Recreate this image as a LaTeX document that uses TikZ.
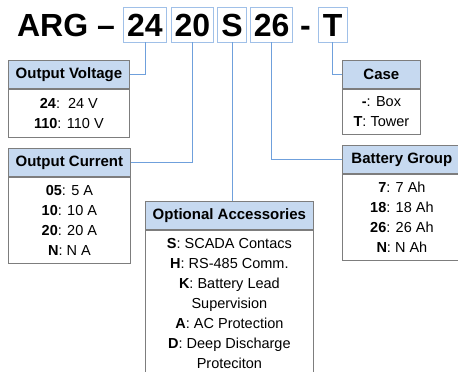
\documentclass[tikz,border=0pt]{standalone}
\usepackage{fontspec}
\setmainfont{Liberation Sans}
\usepackage{xcolor}
\usepackage{tikz}
\usetikzlibrary{positioning}
\definecolor{argblue}{RGB}{111,160,220}
\definecolor{argframe}{RGB}{160,192,232}
\definecolor{arghead}{RGB}{198,217,240}
\definecolor{arggray}{RGB}{125,125,125}
\tikzset{
  code/.style={draw=argframe, line width=0.8pt, inner xsep=3.5pt, inner ysep=0pt, minimum width=29pt, minimum height=35pt, text height=29pt, text depth=5pt, font=\fontsize{32}{32}\selectfont\bfseries},
  head/.style={draw=arggray, line width=0.8pt, fill=arghead, minimum height=28pt, inner sep=0pt, anchor=north west, font=\fontsize{15}{18}\selectfont\bfseries},
  body/.style={draw=arggray, line width=0.8pt, fill=white, align=center, inner sep=0pt, font=\fontsize{14.5}{20}\selectfont},
  link/.style={draw=argblue, line width=0.9pt},
}

\begin{document}
\begin{tikzpicture}[x=1pt, y=-1pt]
    \path[use as bounding box, clip] (0,0) rectangle (458,372);
    % part number
    \node[code] (v24) at (145,24.5) {24};
    \node[code, draw=none, left=4.5pt of v24] (arg) {ARG --};
    \node[code, right=4pt of v24] (v20) {20};
    \node[code, right=3pt of v20] (vS) {S};
    \node[code, right=3pt of vS] (v26) {26};
    \node[code, draw=none, minimum width=0pt, right=3pt of v26] (sep) {-};
    \node[code, right=3pt of sep] (vT) {T};
    % option boxes
    \node[head, minimum width=121pt] (ovh) at (8,60) {Output Voltage};
    \node[body, minimum width=121pt, minimum height=48pt, below=0pt of ovh] (ovb) {\textbf{24}:\ \ 24 V\\ \textbf{110}: 110 V};
    \node[head, minimum width=122pt] (och) at (8,148) {Output Current};
    \node[body, minimum width=122pt, minimum height=86pt, below=0pt of och] (ocb) {\textbf{05}: 5 A\\ \textbf{10}: 10 A\\ \textbf{20}: 20 A\\ \textbf{N}: N A};
    \node[head, minimum width=168pt] (oah) at (145,201) {Optional Accessories};
    \node[body, minimum width=168pt, minimum height=147pt, below=0pt of oah] (oab) {\textbf{S}: SCADA Contacs\\ \textbf{H}: RS-485 Comm.\\ \textbf{K}: Battery Lead\\ Supervision\\ \textbf{A}: AC Protection\\ \textbf{D}: Deep Discharge\\ Proteciton};
    \node[head, minimum width=78pt] (cah) at (342,60) {Case};
    \node[body, minimum width=78pt, minimum height=45pt, below=0pt of cah] (cab) {\textbf{-}: Box\\ \textbf{T}: Tower};
    \node[head, minimum width=119pt] (bgh) at (342,145) {Battery Group};
    \node[body, minimum width=119pt, minimum height=86pt, below=0pt of bgh] (bgb) {\textbf{7}: 7 Ah\\ \textbf{18}: 18 Ah\\ \textbf{26}: 26 Ah\\ \textbf{N}: N Ah};
    % links
    \draw[link] (v24.south) |- (ovh.east);
    \draw[link] (v20.south) |- (och.east);
    \draw[link] (vS.south) -- (vS.south |- oah.north);
    \draw[link] (v26.south) |- (bgh.west);
    \draw[link] (vT.south) |- (cah.west);
\end{tikzpicture}
\end{document}
